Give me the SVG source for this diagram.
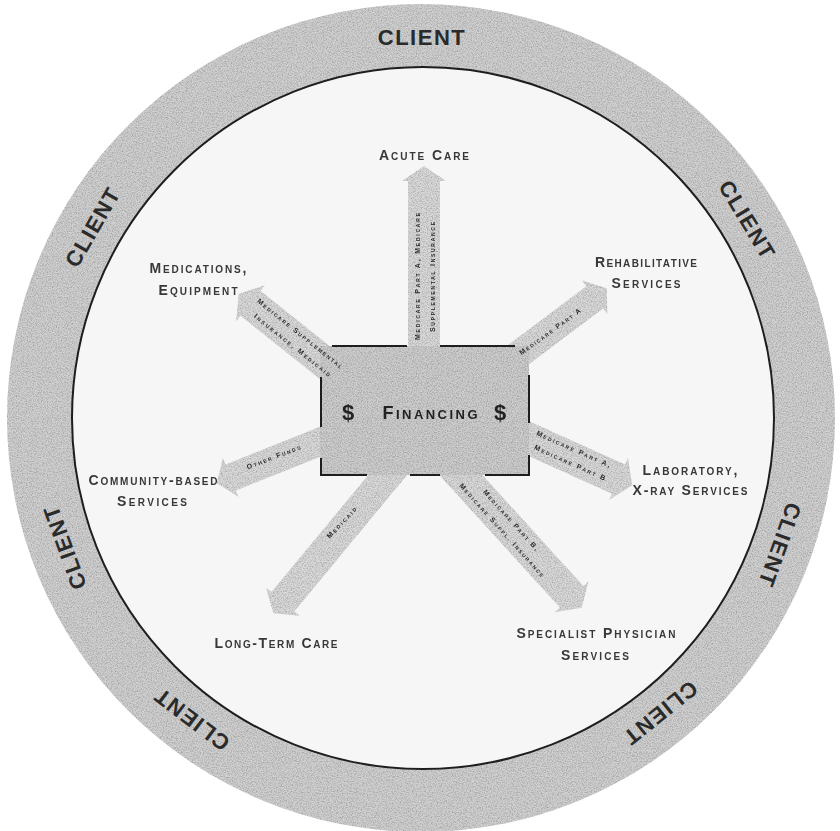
<svg xmlns="http://www.w3.org/2000/svg" width="840" height="831" viewBox="0 0 840 831">
<style>
.client{font-family:"Liberation Sans",Arial,sans-serif;font-size:22px;font-weight:bold;letter-spacing:1.5px;fill:#2a2a2a;text-anchor:middle;dominant-baseline:central}
.lbl{font-family:"Liberation Sans",Arial,sans-serif;font-size:14px;font-variant:small-caps;font-weight:bold;fill:#383838;text-anchor:middle;dominant-baseline:central}
.tiny{font-family:"Liberation Sans",Arial,sans-serif;font-size:7px;font-variant:small-caps;font-weight:bold;fill:#2a2a2a;text-anchor:middle;dominant-baseline:central}
.arrow{fill:#d9d9d9}
.edge{stroke:#1e1e1e;stroke-width:2;fill:none}
.fin{font-family:"Liberation Sans",Arial,sans-serif;font-weight:bold;fill:#222;text-anchor:middle;dominant-baseline:central}
</style>
<defs>
<filter id="grain" x="0" y="0" width="100%" height="100%" color-interpolation-filters="sRGB">
<feTurbulence type="fractalNoise" baseFrequency="0.8" numOctaves="2" seed="7" result="t"/>
<feColorMatrix in="t" type="matrix" values="0 0 0 0 0  0 0 0 0 0  0 0 0 0 0  1.8 0 0 0 -0.7" result="dots"/>
<feComposite in="dots" in2="SourceAlpha" operator="in" result="clipped"/>
<feComponentTransfer in="clipped" result="c2"><feFuncA type="linear" slope="0.28"/></feComponentTransfer>
<feMerge><feMergeNode in="SourceGraphic"/><feMergeNode in="c2"/></feMerge>
</filter>
</defs>
<rect width="840" height="831" fill="#ffffff"/>
<g id="client-ring">
<circle cx="421" cy="418" r="414" fill="#d0d0d0" filter="url(#grain)"/>
<circle cx="423" cy="418" r="351" fill="#f6f6f6" stroke="#1e1e1e" stroke-width="2"/>
<text class="client" x="422" y="37">CLIENT</text>
<text class="client" x="422" y="37" transform="rotate(58.8 422 417)">CLIENT</text>
<text class="client" x="422" y="37" transform="rotate(109.7 422 417)">CLIENT</text>
<text class="client" x="422" y="37" transform="rotate(141.2 422 417)">CLIENT</text>
<text class="client" x="422" y="37" transform="rotate(217.3 422 417)">CLIENT</text>
<text class="client" x="422" y="37" transform="rotate(250 422 417)">CLIENT</text>
<text class="client" x="422" y="37" transform="rotate(-60 422 417)">CLIENT</text>
</g>
<g id="connectors" filter="url(#grain)">
<polygon class="arrow" transform="translate(424,410) rotate(-90)" points="0,-16 229,-16 229,-22 244,0 229,22 229,16 0,16"/>
<polygon class="arrow" transform="translate(470,391) rotate(-36.9)" points="0,-14 156,-14 156,-21 171,0 156,21 156,14 0,14"/>
<polygon class="arrow" transform="translate(470,412) rotate(24.3)" points="0,-16 163,-16 163,-23 178,0 163,23 163,16 0,16"/>
<polygon class="arrow" transform="translate(439,451) rotate(47.7)" points="0,-16 197,-16 197,-23 212,0 197,23 197,16 0,16"/>
<polygon class="arrow" transform="translate(420,436) rotate(129.6)" points="0,-15 215,-15 215,-22 230,0 215,22 215,15 0,15"/>
<polygon class="arrow" transform="translate(422,401) rotate(158.2)" points="0,-14 206,-14 206,-21 221,0 206,21 206,14 0,14"/>
<polygon class="arrow" transform="translate(413,433) rotate(-141.4)" points="0,-16 208,-16 208,-23 223,0 208,23 208,16 0,16"/>
<rect x="320" y="346" width="209" height="129" fill="#cdcdcd"/>
</g>
<g id="connector-labels">
<text class="tiny" transform="translate(417,276.5) rotate(-90)" textLength="127" lengthAdjust="spacing">Medicare Part A, Medicare</text>
<text class="tiny" transform="translate(432,277) rotate(-90)" textLength="110" lengthAdjust="spacing">Supplemental Insurance</text>
<text class="tiny" transform="translate(550,331.5) rotate(-36)" textLength="74" lengthAdjust="spacing">Medicare Part A</text>
<text class="tiny" transform="translate(573.5,449) rotate(24)" textLength="80" lengthAdjust="spacing">Medicare Part A,</text>
<text class="tiny" transform="translate(570,462.5) rotate(24)" textLength="77" lengthAdjust="spacing">Medicare Part B</text>
<text class="tiny" transform="translate(511,520) rotate(48)" textLength="79" lengthAdjust="spacing">Medicare Part B,</text>
<text class="tiny" transform="translate(502,530) rotate(48)" textLength="123" lengthAdjust="spacing">Medicare Suppl. Insurance</text>
<text class="tiny" transform="translate(341.5,522.5) rotate(-47)" textLength="40" lengthAdjust="spacing">Medicaid</text>
<text class="tiny" transform="translate(273.5,457) rotate(-21)" textLength="57" lengthAdjust="spacing">Other Funds</text>
<text class="tiny" transform="translate(300,333.5) rotate(38.6)" textLength="107" lengthAdjust="spacing">Medicare Supplemental</text>
<text class="tiny" transform="translate(292.5,345) rotate(38.6)" textLength="96" lengthAdjust="spacing">Insurance, Medicaid</text>
</g>
<g id="financing">
<path class="edge" d="M332,346 H407 M440,346 H515 M529,375 V423 M529,455 V475 H485 M440,475 H410 M367,475 H321 V458 M321,427 V377"/>
<text class="fin" x="348" y="412" font-size="22" font-weight="normal">$</text>
<text class="fin" x="500" y="412" font-size="22" font-weight="normal">$</text>
<text class="fin" x="430" y="413" font-size="18" font-variant="small-caps" textLength="95" lengthAdjust="spacing">Financing</text>
</g>
<g id="acute-care"><text class="lbl" x="424" y="155" textLength="90" lengthAdjust="spacing">Acute Care</text></g>
<g id="medications-equipment">
<text class="lbl" x="198" y="268" textLength="97" lengthAdjust="spacing">Medications,</text>
<text class="lbl" x="198" y="290" textLength="79" lengthAdjust="spacing">Equipment</text>
</g>
<g id="rehabilitative-services">
<text class="lbl" x="646" y="262" textLength="102" lengthAdjust="spacing">Rehabilitative</text>
<text class="lbl" x="646" y="283" textLength="69" lengthAdjust="spacing">Services</text>
</g>
<g id="laboratory-xray">
<text class="lbl" x="690" y="470" textLength="95" lengthAdjust="spacing">Laboratory,</text>
<text class="lbl" x="690" y="490" textLength="115" lengthAdjust="spacing">X-ray Services</text>
</g>
<g id="community-based">
<text class="lbl" x="153" y="480" textLength="129" lengthAdjust="spacing">Community-based</text>
<text class="lbl" x="152" y="501" textLength="70" lengthAdjust="spacing">Services</text>
</g>
<g id="long-term-care"><text class="lbl" x="276" y="643" textLength="123" lengthAdjust="spacing">Long-Term Care</text></g>
<g id="specialist-physician">
<text class="lbl" x="596" y="633" textLength="159" lengthAdjust="spacing">Specialist Physician</text>
<text class="lbl" x="595" y="655" textLength="68" lengthAdjust="spacing">Services</text>
</g>
</svg>
